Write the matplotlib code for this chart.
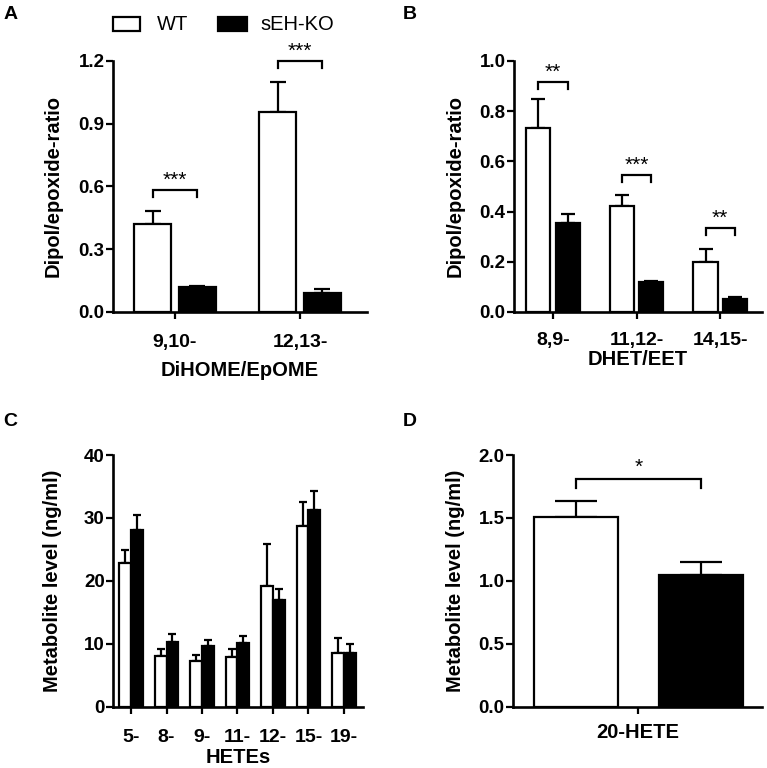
import matplotlib
matplotlib.use("Agg")
import matplotlib.pyplot as plt
import numpy as np

plt.rcParams['font.family'] = ['Liberation Sans', 'DejaVu Sans']
plt.rcParams['font.weight'] = 'bold'

# panel A
a_cats = ['9,10-', '12,13-']
a_wt = [0.42, 0.955]
a_wt_err = [0.483, 1.10]
a_ko = [0.12, 0.09]
a_ko_err = [0.125, 0.11]
a_sig = ['***', '***']
a_sig_y = [0.583, 1.20]

# panel B
b_cats = ['8,9-', '11,12-', '14,15-']
b_wt = [0.732, 0.423, 0.198]
b_wt_err = [0.847, 0.467, 0.252]
b_ko = [0.356, 0.121, 0.053]
b_ko_err = [0.39, 0.125, 0.058]
b_sig = ['**', '***', '**']
b_sig_y = [0.918, 0.547, 0.336]

# panel C
c_cats = ['5-', '8-', '9-', '11-', '12-', '15-', '19-']
c_wt = [22.8, 8.07, 7.28, 7.97, 19.2, 28.8, 8.5]
c_wt_err = [24.9, 9.14, 8.18, 9.14, 25.9, 32.5, 10.9]
c_ko = [28.05, 10.25, 9.67, 10.2, 16.9, 31.2, 8.6]
c_ko_err = [30.4, 11.58, 10.68, 11.16, 18.75, 34.3, 10.0]

# panel D
d_cats = ['20-HETE']
d_wt = [1.505]
d_wt_err = [1.635]
d_ko = [1.047]
d_ko_err = [1.152]
d_sig = ['*']
d_sig_y = [1.807]

LW = 1.6
YTICK_FS = 13.5
XTICK_FS = 14
LAB_FS = 14.5


def panel(ax, cats, wt, wt_err, ko, ko_err, off, width, cap, xlim, ylim, yticks, fmt,
          xlabel, xlabelpad, ylabel, ylab_x, xtick_fs=XTICK_FS, xtick_pad=8):
    x = np.arange(len(cats))
    for xs, vals, errs, col in [(x - off, wt, wt_err, 'white'), (x + off, ko, ko_err, 'black')]:
        vals = np.array(vals)
        errs = np.array(errs)
        ax.errorbar(xs, vals, yerr=[np.zeros_like(vals), errs - vals], fmt='none',
                    ecolor='black', elinewidth=LW, capsize=cap, capthick=LW, zorder=1)
        ax.bar(xs, vals, width=width, color=col, edgecolor='black', linewidth=LW, zorder=2)
    ax.set_xlim(*xlim)
    ax.set_ylim(*ylim)
    ax.set_yticks(yticks)
    ax.set_yticklabels([fmt.format(t) for t in yticks], fontsize=YTICK_FS, fontweight='bold')
    ax.set_xticks(x)
    ax.set_xticklabels(cats, fontsize=xtick_fs, fontweight='bold')
    ax.spines['top'].set_visible(False)
    ax.spines['right'].set_visible(False)
    for s in ['left', 'bottom']:
        ax.spines[s].set_linewidth(LW + 0.3)
    ax.tick_params(axis='y', length=5, width=LW, pad=1)
    ax.tick_params(axis='x', length=5, width=LW, pad=xtick_pad)
    if xlabel:
        ax.set_xlabel(xlabel, fontsize=LAB_FS, fontweight='bold', labelpad=xlabelpad)
    ax.set_ylabel(ylabel, fontsize=LAB_FS, fontweight='bold')
    ax.yaxis.set_label_coords(ylab_x, 0.5)
    return x


def brackets(ax, x, off, ys, sigs, drop, gap):
    for xi, y, s in zip(x, ys, sigs):
        ax.plot([xi - off, xi - off, xi + off, xi + off], [y - drop, y, y, y - drop],
                color='black', lw=LW, clip_on=False, solid_joinstyle='miter')
        ax.text(xi, y + gap, s, ha='center', va='bottom', fontsize=15, fontweight='normal')


fig = plt.figure(figsize=(7.67, 7.68), dpi=100)

axA = fig.add_axes([0.1473, 0.5938, 0.3312, 0.3268])
xA = panel(axA, a_cats, a_wt, a_wt_err, a_ko, a_ko_err, 0.178, 0.296, 5.5,
           (-0.496, 1.536), (0, 1.2), [0.0, 0.3, 0.6, 0.9, 1.2], '{:.1f}',
           'DiHOME/EpOME', 7, 'Dipol/epoxide-ratio', -0.20, xtick_pad=11)
brackets(axA, xA, 0.178, a_sig_y, a_sig, 0.035, 0.0)

axB = fig.add_axes([0.6701, 0.5938, 0.3233, 0.3268])
xB = panel(axB, b_cats, b_wt, b_wt_err, b_ko, b_ko_err, 0.175, 0.29, 4.7,
           (-0.467, 2.50), (0, 1.0), [0.0, 0.2, 0.4, 0.6, 0.8, 1.0], '{:.1f}',
           'DHET/EET', 1, 'Dipol/epoxide-ratio', -0.20, xtick_pad=9.5)
brackets(axB, xB, 0.175, b_sig_y, b_sig, 0.03, 0.0)

axC = fig.add_axes([0.1473, 0.0798, 0.326, 0.3277])
panel(axC, c_cats, c_wt, c_wt_err, c_ko, c_ko_err, 0.165, 0.33, 2.6,
      (-0.51, 6.54), (0, 40), [0, 10, 20, 30, 40], '{:d}',
      'HETEs', 1.2, 'Metabolite level (ng/ml)', -0.204, xtick_pad=11)

axD = fig.add_axes([0.6685, 0.0798, 0.3246, 0.3277])
xD = panel(axD, d_cats, d_wt, d_wt_err, d_ko, d_ko_err, 0.25, 0.336, 15,
           (-0.502, 0.494), (0, 2.0), [0.0, 0.5, 1.0, 1.5, 2.0], '{:.1f}',
           '', 0, 'Metabolite level (ng/ml)', -0.19, xtick_fs=LAB_FS, xtick_pad=7)
brackets(axD, xD, 0.25, d_sig_y, d_sig, 0.065, 0.02)

# panel letters
for lx, ly, t in [(0.004, 0.992, 'A'), (0.525, 0.992, 'B'), (0.004, 0.462, 'C'), (0.525, 0.462, 'D')]:
    fig.text(lx, ly, t, fontsize=14, fontweight='bold', ha='left', va='top')

# legend
fig.patches.append(plt.Rectangle((113 / 767, 1 - 31 / 768), 27 / 767, 14 / 768, transform=fig.transFigure,
                                 facecolor='white', edgecolor='black', linewidth=LW))
fig.text(157 / 767, 1 - 24 / 768, 'WT', fontsize=14.5, fontweight='normal', va='center')
fig.patches.append(plt.Rectangle((218 / 767, 1 - 31 / 768), 29 / 767, 14 / 768, transform=fig.transFigure,
                                 facecolor='black', edgecolor='black', linewidth=LW))
fig.text(260 / 767, 1 - 24 / 768, 'sEH-KO', fontsize=14.5, fontweight='normal', va='center')

fig.savefig('out.png', dpi=100)
